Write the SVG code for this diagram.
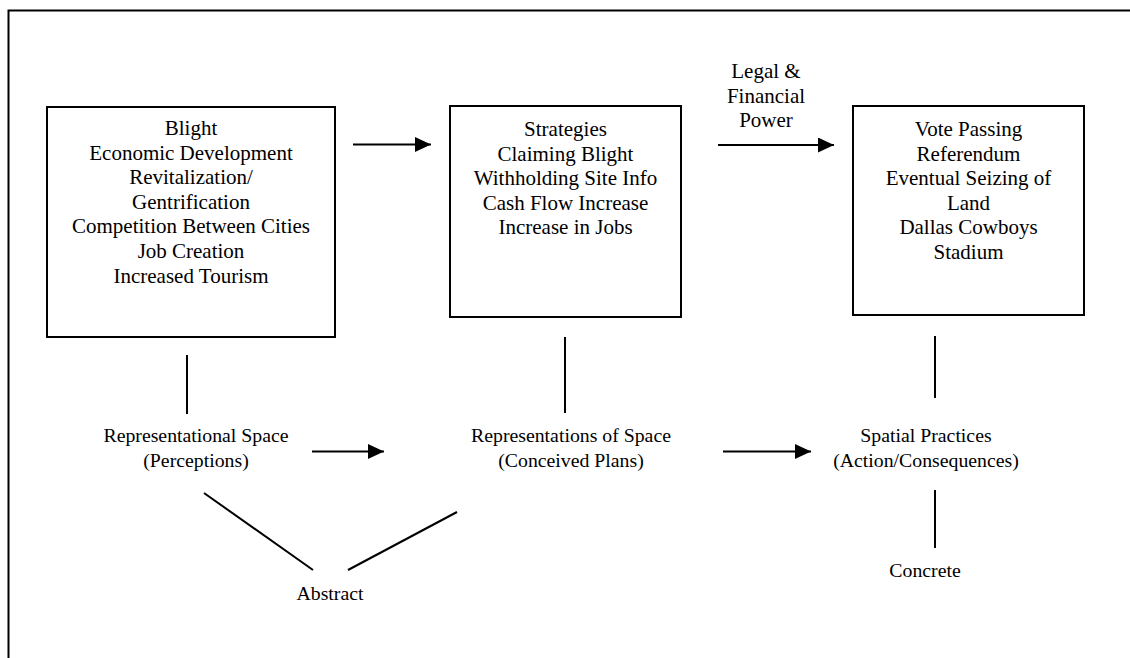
<svg xmlns="http://www.w3.org/2000/svg" width="1130" height="658" viewBox="0 0 1130 658">
<style>
.box{fill:#fff;stroke:#000;stroke-width:2}
.t{font-family:"Liberation Serif","Times New Roman",serif;font-size:21px;fill:#000;text-anchor:middle}
.s{font-family:"Liberation Serif","Times New Roman",serif;font-size:19.8px;fill:#000;text-anchor:middle}
.ln{stroke:#000;stroke-width:2;fill:none}
.ar{stroke:#000;stroke-width:2;fill:none;marker-end:url(#ah)}
</style>
<defs>
<marker id="ah" markerUnits="userSpaceOnUse" markerWidth="17" markerHeight="16" refX="16" refY="7.5" orient="auto">
<path d="M0,0 L16,7.5 L0,15 z" fill="#000"/>
</marker>
</defs>
<rect x="8.5" y="10.5" width="1140" height="660" fill="#fff" stroke="#000" stroke-width="2"/>
<g id="box1">
<rect class="box" x="47" y="107" width="288" height="230"/>
<text class="t" x="191" y="135">Blight</text>
<text class="t" x="191" y="159.6">Economic Development</text>
<text class="t" x="191" y="184.2">Revitalization/</text>
<text class="t" x="191" y="208.8">Gentrification</text>
<text class="t" x="191" y="233.4">Competition Between Cities</text>
<text class="t" x="191" y="258">Job Creation</text>
<text class="t" x="191" y="282.6">Increased Tourism</text>
</g>
<g id="box2">
<rect class="box" x="450" y="106" width="231" height="211"/>
<text class="t" x="565.5" y="136">Strategies</text>
<text class="t" x="565.5" y="160.5">Claiming Blight</text>
<text class="t" x="565.5" y="185">Withholding Site Info</text>
<text class="t" x="565.5" y="209.5">Cash Flow Increase</text>
<text class="t" x="565.5" y="234">Increase in Jobs</text>
</g>
<g id="box3">
<rect class="box" x="853" y="106" width="231" height="209"/>
<text class="t" x="968.5" y="136">Vote Passing</text>
<text class="t" x="968.5" y="160.6">Referendum</text>
<text class="t" x="968.5" y="185.2">Eventual Seizing of</text>
<text class="t" x="968.5" y="209.8">Land</text>
<text class="t" x="968.5" y="234.4">Dallas Cowboys</text>
<text class="t" x="968.5" y="259">Stadium</text>
</g>
<g id="power-label">
<text class="t" x="766" y="78">Legal &amp;</text>
<text class="t" x="766" y="102.5">Financial</text>
<text class="t" x="766" y="127">Power</text>
</g>
<g id="representational">
<text class="s" x="196" y="442">Representational Space</text>
<text class="s" x="196" y="467">(Perceptions)</text>
</g>
<g id="representations">
<text class="s" x="571" y="442">Representations of Space</text>
<text class="s" x="571" y="467">(Conceived Plans)</text>
</g>
<g id="spatial">
<text class="s" x="926" y="442">Spatial Practices</text>
<text class="s" x="926" y="467">(Action/Consequences)</text>
</g>
<g id="abstract">
<text class="s" x="330" y="600">Abstract</text>
</g>
<g id="concrete">
<text class="s" x="925" y="577">Concrete</text>
</g>
<g id="connectors">
<line class="ar" x1="353" y1="144.5" x2="431" y2="144.5"/>
<line class="ar" x1="718" y1="145" x2="834" y2="145"/>
<line class="ar" x1="312" y1="451.5" x2="384" y2="451.5"/>
<line class="ar" x1="723" y1="451.5" x2="811" y2="451.5"/>
<line class="ln" x1="187" y1="355" x2="187" y2="414"/>
<line class="ln" x1="565" y1="337" x2="565" y2="413"/>
<line class="ln" x1="935" y1="336" x2="935" y2="398"/>
<line class="ln" x1="935" y1="490" x2="935" y2="548"/>
<line class="ln" x1="204" y1="493" x2="313" y2="570"/>
<line class="ln" x1="348" y1="570" x2="457" y2="512"/>
</g>
</svg>
